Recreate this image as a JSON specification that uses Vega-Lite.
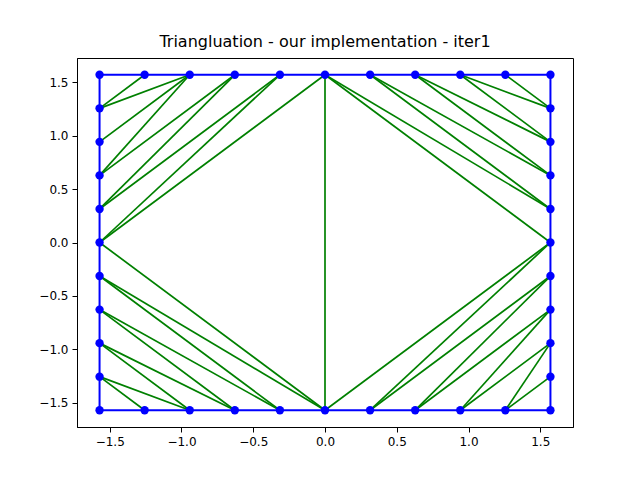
{
"$schema":"https://vega.github.io/schema/vega-lite/v6.json",
"width":496,"height":369,
"padding":{"left":38,"top":34,"right":20,"bottom":20},
"title":{"text":"Triangluation - our implementation - iter1","fontSize":16,"fontWeight":"normal","font":"DejaVu Sans","offset":8},
"config":{"view":{"stroke":"black"},"axis":{"grid":false,"labelFont":"DejaVu Sans","labelFontSize":12,"labelColor":"black","domainColor":"black","tickColor":"black","labelPadding":4,"title":null}},
"datasets":{
"edges":[
{"x":-1.5708,"y":1.2566,"x2":-1.2566,"y2":1.5708},
{"x":-1.5708,"y":1.2566,"x2":-0.9425,"y2":1.5708},
{"x":-1.5708,"y":0.9425,"x2":-0.9425,"y2":1.5708},
{"x":-1.5708,"y":0.6283,"x2":-0.9425,"y2":1.5708},
{"x":-1.5708,"y":0.6283,"x2":-0.6283,"y2":1.5708},
{"x":-1.5708,"y":0.3142,"x2":-0.6283,"y2":1.5708},
{"x":-1.5708,"y":0.3142,"x2":-0.3142,"y2":1.5708},
{"x":-1.5708,"y":0,"x2":-0.3142,"y2":1.5708},
{"x":-1.5708,"y":0,"x2":0,"y2":1.5708},
{"x":-1.5708,"y":0,"x2":0,"y2":-1.5708},
{"x":-1.5708,"y":-0.3142,"x2":0,"y2":-1.5708},
{"x":-1.5708,"y":-0.3142,"x2":-0.3142,"y2":-1.5708},
{"x":-1.5708,"y":-0.6283,"x2":-0.3142,"y2":-1.5708},
{"x":-1.5708,"y":-0.6283,"x2":-0.6283,"y2":-1.5708},
{"x":-1.5708,"y":-0.9425,"x2":-0.6283,"y2":-1.5708},
{"x":-1.5708,"y":-0.9425,"x2":-0.9425,"y2":-1.5708},
{"x":-1.5708,"y":-1.2566,"x2":-0.9425,"y2":-1.5708},
{"x":-1.5708,"y":-1.2566,"x2":-1.2566,"y2":-1.5708},
{"x":0,"y":1.5708,"x2":1.5708,"y2":0},
{"x":0,"y":1.5708,"x2":1.5708,"y2":0.3142},
{"x":0.3142,"y":1.5708,"x2":1.5708,"y2":0.3142},
{"x":0.3142,"y":1.5708,"x2":1.5708,"y2":0.6283},
{"x":0.6283,"y":1.5708,"x2":1.5708,"y2":0.6283},
{"x":0.6283,"y":1.5708,"x2":1.5708,"y2":0.9425},
{"x":0.9425,"y":1.5708,"x2":1.5708,"y2":0.9425},
{"x":0.9425,"y":1.5708,"x2":1.5708,"y2":1.2566},
{"x":1.2566,"y":1.5708,"x2":1.5708,"y2":1.2566},
{"x":1.5708,"y":0,"x2":0,"y2":-1.5708},
{"x":1.5708,"y":0,"x2":0.3142,"y2":-1.5708},
{"x":1.5708,"y":-0.3142,"x2":0.3142,"y2":-1.5708},
{"x":1.5708,"y":-0.3142,"x2":0.6283,"y2":-1.5708},
{"x":1.5708,"y":-0.6283,"x2":0.6283,"y2":-1.5708},
{"x":1.5708,"y":-0.6283,"x2":0.9425,"y2":-1.5708},
{"x":1.5708,"y":-0.9425,"x2":0.9425,"y2":-1.5708},
{"x":1.5708,"y":-0.9425,"x2":1.2566,"y2":-1.5708},
{"x":1.5708,"y":-1.2566,"x2":1.2566,"y2":-1.5708},
{"x":0,"y":1.5708,"x2":0,"y2":-1.5708}
],
"border":[
{"x":-1.5708,"y":1.5708,"x2":1.5708,"y2":1.5708},
{"x":1.5708,"y":1.5708,"x2":1.5708,"y2":-1.5708},
{"x":1.5708,"y":-1.5708,"x2":-1.5708,"y2":-1.5708},
{"x":-1.5708,"y":-1.5708,"x2":-1.5708,"y2":1.5708}
],
"pts":[
{"x":-1.5708,"y":1.5708},{"x":-1.2566,"y":1.5708},{"x":-0.9425,"y":1.5708},{"x":-0.6283,"y":1.5708},{"x":-0.3142,"y":1.5708},{"x":0,"y":1.5708},{"x":0.3142,"y":1.5708},{"x":0.6283,"y":1.5708},{"x":0.9425,"y":1.5708},{"x":1.2566,"y":1.5708},{"x":1.5708,"y":1.5708},
{"x":-1.5708,"y":-1.5708},{"x":-1.2566,"y":-1.5708},{"x":-0.9425,"y":-1.5708},{"x":-0.6283,"y":-1.5708},{"x":-0.3142,"y":-1.5708},{"x":0,"y":-1.5708},{"x":0.3142,"y":-1.5708},{"x":0.6283,"y":-1.5708},{"x":0.9425,"y":-1.5708},{"x":1.2566,"y":-1.5708},{"x":1.5708,"y":-1.5708},
{"x":-1.5708,"y":1.2566},{"x":-1.5708,"y":0.9425},{"x":-1.5708,"y":0.6283},{"x":-1.5708,"y":0.3142},{"x":-1.5708,"y":0},{"x":-1.5708,"y":-0.3142},{"x":-1.5708,"y":-0.6283},{"x":-1.5708,"y":-0.9425},{"x":-1.5708,"y":-1.2566},
{"x":1.5708,"y":1.2566},{"x":1.5708,"y":0.9425},{"x":1.5708,"y":0.6283},{"x":1.5708,"y":0.3142},{"x":1.5708,"y":0},{"x":1.5708,"y":-0.3142},{"x":1.5708,"y":-0.6283},{"x":1.5708,"y":-0.9425},{"x":1.5708,"y":-1.2566}
]
},
"layer":[
{"data":{"name":"edges"},"mark":{"type":"rule","color":"green","strokeWidth":1.7},
 "encoding":{"x":{"field":"x","type":"quantitative","scale":{"domain":[-1.728,1.728],"nice":false,"zero":false},"axis":{"values":[-1.5,-1,-0.5,0,0.5,1,1.5],"format":".1f"}},"y":{"field":"y","type":"quantitative","scale":{"domain":[-1.728,1.728],"nice":false,"zero":false},"axis":{"values":[-1.5,-1,-0.5,0,0.5,1,1.5],"format":".1f"}},"x2":{"field":"x2"},"y2":{"field":"y2"}}},
{"data":{"name":"border"},"mark":{"type":"rule","color":"blue","strokeWidth":2},
 "encoding":{"x":{"field":"x","type":"quantitative"},"y":{"field":"y","type":"quantitative"},"x2":{"field":"x2"},"y2":{"field":"y2"}}},
{"data":{"name":"pts"},"mark":{"type":"point","filled":true,"color":"blue","size":70,"opacity":1},
 "encoding":{"x":{"field":"x","type":"quantitative"},"y":{"field":"y","type":"quantitative"}}}
]
}
